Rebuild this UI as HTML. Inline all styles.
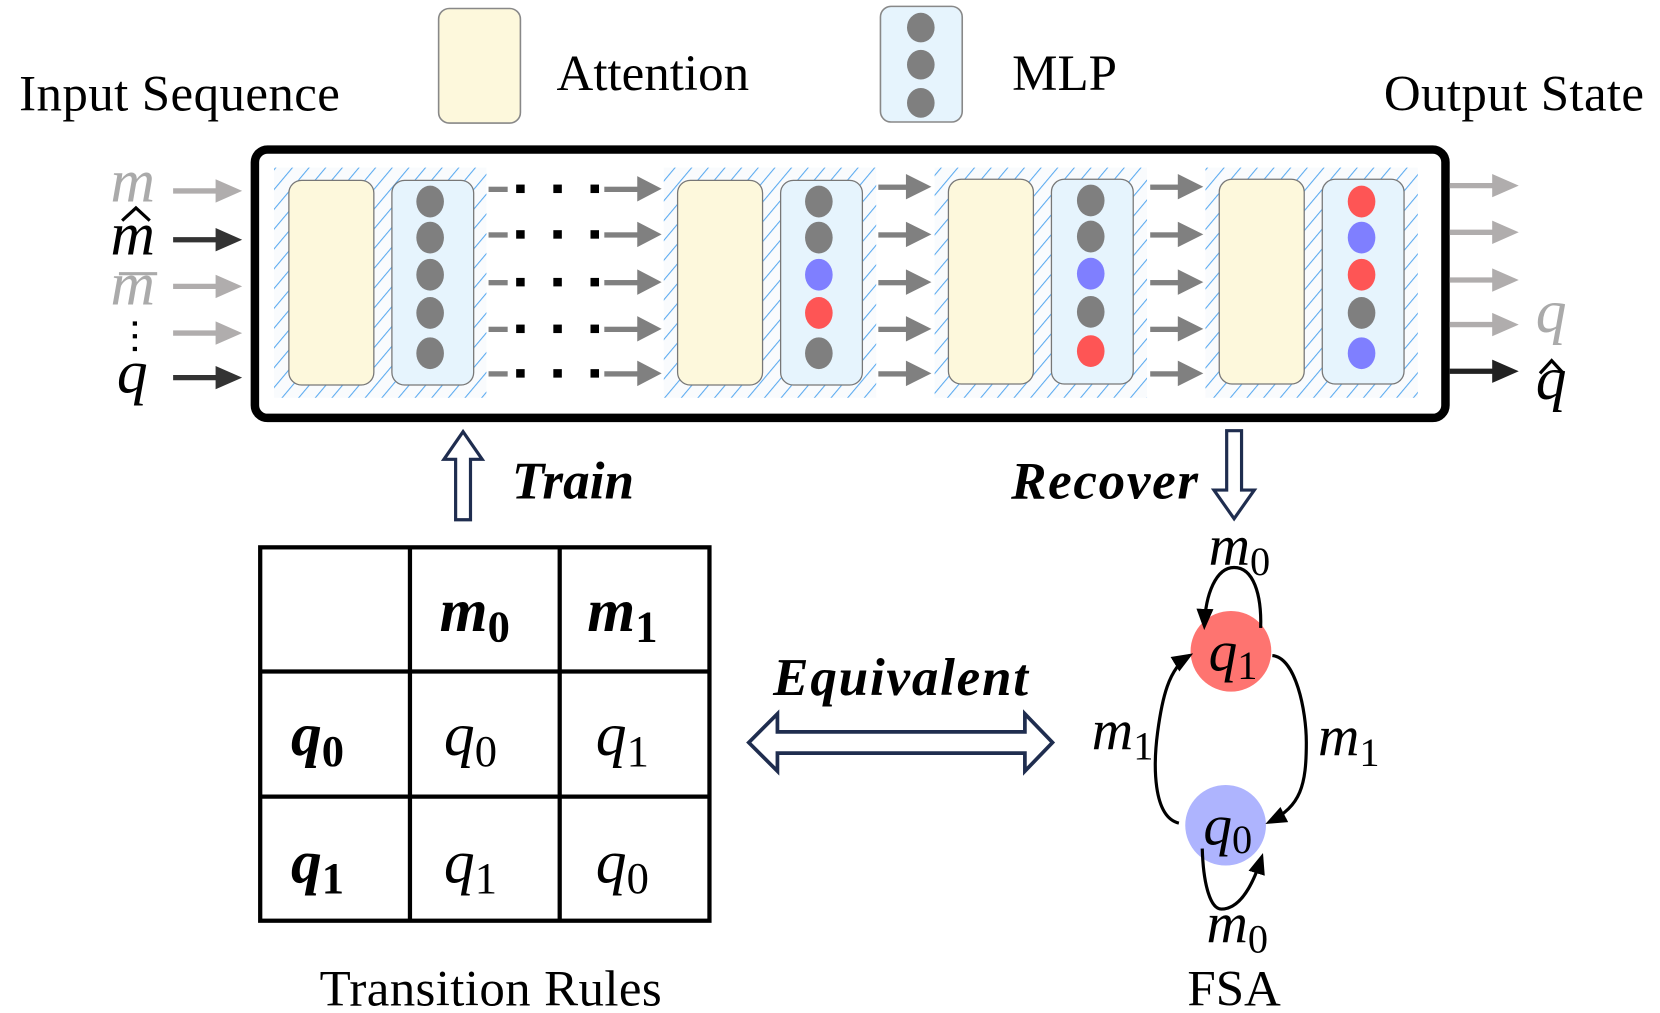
<!DOCTYPE html>
<html><head><meta charset="utf-8"><style>html,body{margin:0;padding:0;background:#fff}svg{display:block}</style></head>
<body>
<svg width="1660" height="1013" viewBox="0 0 1563 955" preserveAspectRatio="none" xmlns="http://www.w3.org/2000/svg" font-family="Liberation Serif, serif">
<defs>
<pattern id="h" patternUnits="userSpaceOnUse" width="12" height="12" patternTransform="rotate(40)">
<rect width="12" height="12" fill="#f9fbfd"/><line x1="0" y1="0" x2="0" y2="12" stroke="#5aaaf0" stroke-width="2"/></pattern>
<marker id="ab" markerWidth="20" markerHeight="20" refX="16" refY="8" orient="auto" markerUnits="userSpaceOnUse" viewBox="0 0 20 16"><path d="M0,0L20,8L0,16z" fill="#000"/></marker>
<g id="dr"><rect x="460" y="-2" width="18" height="5" fill="#808080"/><rect x="486" y="-4" width="8" height="8" fill="#000"/><rect x="521" y="-4" width="8" height="8" fill="#000"/><rect x="556" y="-4" width="8" height="8" fill="#000"/><rect x="569" y="-2" width="35" height="5" fill="#808080"/><path d="M600,-12L623,0L600,12z" fill="#808080"/></g>
<g id="ar"><rect x="827" y="-2" width="30" height="5" fill="#808080"/><path d="M853,-12L877,0L853,12z" fill="#808080"/></g>
</defs>
<!-- legend -->
<rect x="413" y="8" width="77" height="108" rx="10" fill="#fdf8dc" stroke="#888" stroke-width="1.5"/>
<text x="524" y="85" font-size="48">Attention</text>
<rect x="829" y="6" width="77" height="109" rx="10" fill="#e6f4fd" stroke="#888" stroke-width="1.5"/>
<g fill="#7f7f7f"><ellipse cx="867" cy="26" rx="13" ry="14"/><ellipse cx="867" cy="61" rx="13" ry="14"/><ellipse cx="867" cy="97" rx="13" ry="14"/></g>
<text x="953" y="85" font-size="48">MLP</text>
<text x="18" y="104" font-size="48" textLength="302">Input Sequence</text>
<text x="1303" y="104" font-size="48" textLength="245">Output State</text>
<!-- main box -->
<rect x="240" y="141" width="1121" height="253" rx="12" fill="#fff" stroke="#000" stroke-width="8"/>
<g fill="url(#h)"><rect x="258" y="158" width="200" height="217"/><rect x="625" y="158" width="200" height="217"/><rect x="880" y="158" width="200" height="217"/><rect x="1135" y="158" width="200" height="217"/></g>
<g fill="#fdf8dc" stroke="#777" stroke-width="1.2">
<rect x="272" y="170" width="80" height="193" rx="12"/><rect x="638" y="170" width="80" height="193" rx="12"/><rect x="893" y="169" width="80" height="193" rx="12"/><rect x="1148" y="169" width="80" height="193" rx="12"/></g>
<g fill="#e6f4fd" stroke="#777" stroke-width="1.2">
<rect x="369" y="170" width="77" height="193" rx="12"/><rect x="735" y="170" width="77" height="193" rx="12"/><rect x="990" y="169" width="77" height="193" rx="12"/><rect x="1245" y="169" width="77" height="193" rx="12"/></g>
<g>
<ellipse cx="405" cy="190" rx="13" ry="15" fill="#7f7f7f"/><ellipse cx="405" cy="224" rx="13" ry="15" fill="#7f7f7f"/><ellipse cx="405" cy="259" rx="13" ry="15" fill="#7f7f7f"/><ellipse cx="405" cy="295" rx="13" ry="15" fill="#7f7f7f"/><ellipse cx="405" cy="333" rx="13" ry="15" fill="#7f7f7f"/>
<ellipse cx="771" cy="190" rx="13" ry="15" fill="#7f7f7f"/><ellipse cx="771" cy="224" rx="13" ry="15" fill="#7f7f7f"/><ellipse cx="771" cy="259" rx="13" ry="15" fill="#7f7fff"/><ellipse cx="771" cy="295" rx="13" ry="15" fill="#fe5555"/><ellipse cx="771" cy="333" rx="13" ry="15" fill="#7f7f7f"/>
<ellipse cx="1027" cy="189" rx="13" ry="15" fill="#7f7f7f"/><ellipse cx="1027" cy="223" rx="13" ry="15" fill="#7f7f7f"/><ellipse cx="1027" cy="258" rx="13" ry="15" fill="#7f7fff"/><ellipse cx="1027" cy="294" rx="13" ry="15" fill="#7f7f7f"/><ellipse cx="1027" cy="331" rx="13" ry="15" fill="#fe5555"/>
<ellipse cx="1282" cy="190" rx="13" ry="15" fill="#fe5555"/><ellipse cx="1282" cy="224" rx="13" ry="15" fill="#7f7fff"/><ellipse cx="1282" cy="259" rx="13" ry="15" fill="#fe5555"/><ellipse cx="1282" cy="295" rx="13" ry="15" fill="#7f7f7f"/><ellipse cx="1282" cy="333" rx="13" ry="15" fill="#7f7fff"/>
</g>
<!-- input labels/arrows -->
<g font-style="italic" font-size="58">
<text x="104" y="190" fill="#aaa" textLength="50">m</text>
<text x="104" y="240" fill="#000" textLength="50">m</text>
<text x="104" y="287" fill="#aaa" textLength="50">m</text>
<text x="110" y="370" fill="#000">q</text>
</g>
<path d="M115,208L128,196L141,208" fill="none" stroke="#000" stroke-width="3"/>
<line x1="112" y1="258" x2="148" y2="258" stroke="#aaa" stroke-width="3"/>
<g fill="#000"><rect x="125" y="303" width="4" height="4"/><rect x="125" y="315" width="4" height="4"/><rect x="125" y="327" width="4" height="4"/></g>
<g stroke-width="5">
<line x1="163" y1="180" x2="205" y2="180" stroke="#b0adad"/><path d="M203,169L228,180L203,191z" fill="#b0adad"/>
<line x1="163" y1="226" x2="205" y2="226" stroke="#333"/><path d="M203,215L228,226L203,237z" fill="#333"/>
<line x1="163" y1="270" x2="205" y2="270" stroke="#b0adad"/><path d="M203,259L228,270L203,281z" fill="#b0adad"/>
<line x1="163" y1="314" x2="205" y2="314" stroke="#b0adad"/><path d="M203,303L228,314L203,325z" fill="#b0adad"/>
<line x1="163" y1="356" x2="205" y2="356" stroke="#333"/><path d="M203,345L228,356L203,367z" fill="#333"/>
</g>
<use href="#dr" y="178"/><use href="#dr" y="221"/><use href="#dr" y="266"/><use href="#dr" y="310"/><use href="#dr" y="352"/>
<use href="#ar" y="176"/><use href="#ar" y="221"/><use href="#ar" y="266"/><use href="#ar" y="310"/><use href="#ar" y="352"/>
<use href="#ar" x="256" y="176"/><use href="#ar" x="256" y="221"/><use href="#ar" x="256" y="266"/><use href="#ar" x="256" y="310"/><use href="#ar" x="256" y="352"/>
<!-- outputs -->
<g stroke-width="5">
<line x1="1365" y1="175" x2="1408" y2="175" stroke="#b0adad"/><path d="M1405,164L1430,175L1405,186z" fill="#b0adad"/>
<line x1="1365" y1="219" x2="1408" y2="219" stroke="#b0adad"/><path d="M1405,208L1430,219L1405,230z" fill="#b0adad"/>
<line x1="1365" y1="264" x2="1408" y2="264" stroke="#b0adad"/><path d="M1405,253L1430,264L1405,275z" fill="#b0adad"/>
<line x1="1365" y1="306" x2="1408" y2="306" stroke="#b0adad"/><path d="M1405,295L1430,306L1405,317z" fill="#b0adad"/>
<line x1="1365" y1="350" x2="1408" y2="350" stroke="#222"/><path d="M1405,339L1430,350L1405,361z" fill="#222"/>
</g>
<text x="1446" y="313" font-size="58" font-style="italic" fill="#aaa">q</text>
<text x="1446" y="376" font-size="58" font-style="italic">q</text>
<path d="M1450,352L1461,340L1472,352" fill="none" stroke="#000" stroke-width="3"/>
<!-- train / recover -->
<path d="M429,490L429,433L418,433L436,407L454,433L443,433L443,490z" fill="#fff" stroke="#1f2d4f" stroke-width="3"/>
<text x="482" y="470" font-size="50" font-weight="bold" font-style="italic" textLength="115">Train</text>
<path d="M1155,406L1155,462L1143,462L1162,489L1181,462L1169,462L1169,406z" fill="#fff" stroke="#1f2d4f" stroke-width="3"/>
<text x="952" y="470" font-size="50" font-weight="bold" font-style="italic" textLength="176">Recover</text>
<!-- table -->
<g stroke="#000" stroke-width="4" fill="none">
<rect x="245" y="516" width="423" height="352"/>
<line x1="386" y1="516" x2="386" y2="868"/><line x1="527" y1="516" x2="527" y2="868"/>
<line x1="245" y1="633" x2="668" y2="633"/><line x1="245" y1="751" x2="668" y2="751"/>
</g>
<g font-size="58" font-style="italic">
<text x="414" y="595" font-weight="bold">m<tspan font-size="42" font-style="normal" dy="10">0</tspan></text>
<text x="553" y="595" font-weight="bold">m<tspan font-size="42" font-style="normal" dy="10">1</tspan></text>
<text x="274" y="712" font-weight="bold">q<tspan font-size="42" font-style="normal" dy="10">0</tspan></text>
<text x="274" y="832" font-weight="bold">q<tspan font-size="42" font-style="normal" dy="10">1</tspan></text>
<text x="418" y="712">q<tspan font-size="42" font-style="normal" dy="10">0</tspan></text>
<text x="561" y="712">q<tspan font-size="42" font-style="normal" dy="10">1</tspan></text>
<text x="418" y="832">q<tspan font-size="42" font-style="normal" dy="10">1</tspan></text>
<text x="561" y="832">q<tspan font-size="42" font-style="normal" dy="10">0</tspan></text>
</g>
<text x="462" y="948" font-size="48" text-anchor="middle" textLength="322">Transition Rules</text>
<!-- equivalent -->
<text x="848" y="655" font-size="50" font-weight="bold" font-style="italic" text-anchor="middle" textLength="240">Equivalent</text>
<path d="M705,700L732,673L732,690L965,690L965,673L991,700L965,727L965,710L732,710L732,727z" fill="#fff" stroke="#1f2d4f" stroke-width="3.5"/>
<!-- FSA -->
<circle cx="1159" cy="614" r="38" fill="#fe7470"/>
<circle cx="1154" cy="778" r="38" fill="#aeb4fe"/>
<g font-size="54" font-style="italic">
<text x="1138" y="632">q<tspan font-size="38" font-style="normal" dy="8">1</tspan></text>
<text x="1133" y="796">q<tspan font-size="38" font-style="normal" dy="8">0</tspan></text>
<text x="1138" y="532">m<tspan font-size="38" font-style="normal" dy="10">0</tspan></text>
<text x="1028" y="706">m<tspan font-size="38" font-style="normal" dy="10">1</tspan></text>
<text x="1241" y="712">m<tspan font-size="38" font-style="normal" dy="10">1</tspan></text>
<text x="1136" y="888">m<tspan font-size="38" font-style="normal" dy="10">0</tspan></text>
</g>
<g fill="none" stroke="#000" stroke-width="3" marker-end="url(#ab)">
<path d="M1187,592C1188,560 1180,535 1162,535C1145,535 1135,560 1134,590"/>
<path d="M1110,776C1085,770 1086,720 1090,690C1094,660 1100,630 1120,618"/>
<path d="M1198,618C1220,620 1230,670 1230,700C1230,740 1225,760 1195,775"/>
<path d="M1132,800C1133,835 1140,857 1150,857C1165,857 1178,840 1188,808"/>
</g>
<text x="1162" y="948" font-size="48" text-anchor="middle">FSA</text>
</svg>
</body></html>
